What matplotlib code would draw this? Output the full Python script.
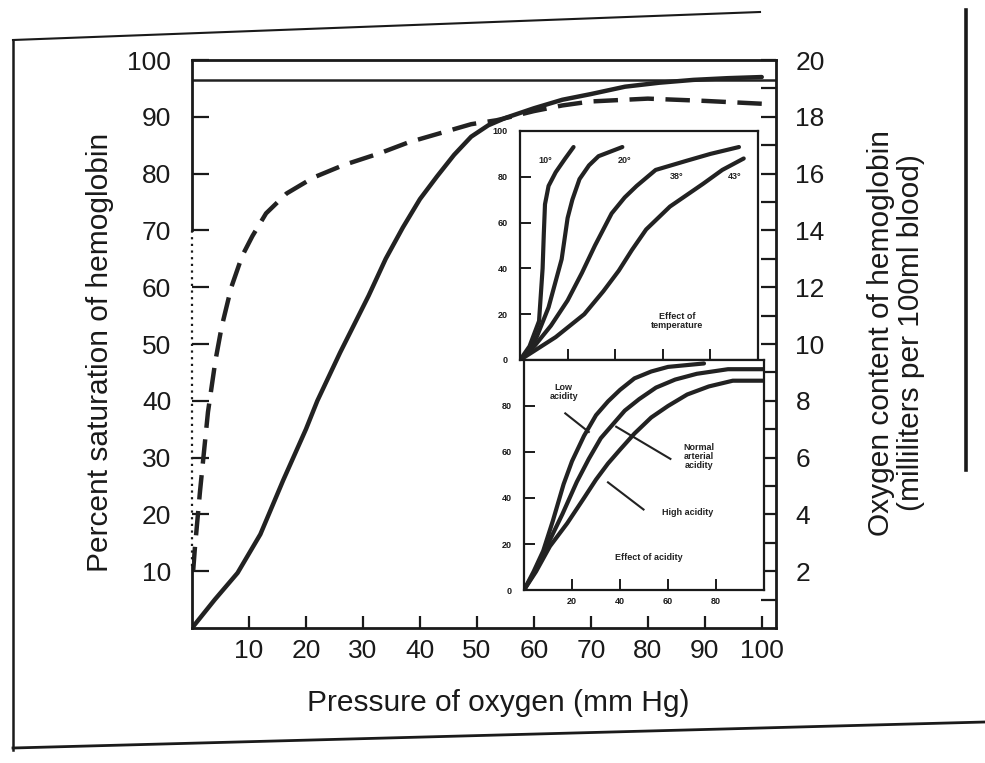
import matplotlib
matplotlib.use("Agg")
import matplotlib.pyplot as plt
from matplotlib.lines import Line2D

plt.rcParams['font.family'] = ['Liberation Sans', 'DejaVu Sans']

# ---------------- data ----------------
# main chart: hemoglobin (solid) and dashed curve
hb_po2 = [0, 4, 8, 12, 16, 20, 22, 26, 31, 34, 37, 40, 43, 46, 49, 52, 55, 60, 65, 70, 76, 82, 88, 94, 100]
hb_sat = [0, 5, 9.7, 16.5, 26, 35, 40, 48.5, 58.5, 65, 70.5, 75.5, 79.5, 83.3, 86.5, 88.5, 89.8, 91.5, 93, 94, 95.3, 96, 96.5, 96.8, 97]
mb_po2 = [0.2, 0.5, 1.4, 2.8, 4.1, 5.2, 6.9, 8.8, 10.6, 13, 16.6, 21.3, 26.6, 33, 38, 43.5, 49, 53.5, 60, 65, 70, 80, 90, 100]
mb_sat = [10, 14, 24, 38, 47, 53, 60, 65.5, 69, 73, 76.5, 79.3, 81.5, 83.6, 85.5, 87.1, 88.7, 89.4, 91, 92, 92.7, 93.2, 92.8, 92.3]
arterial_level = 96.5

x_ticks = [10, 20, 30, 40, 50, 60, 70, 80, 90, 100]
left_ticks = [10, 20, 30, 40, 50, 60, 70, 80, 90, 100]
right_major = [2, 4, 6, 8, 10, 12, 14, 16, 18, 20]
right_minor = [1, 3, 5, 7, 9, 11, 13, 15, 17, 19]

# inset 1: effect of temperature
t10_x = [0, 4, 8, 9.5, 10, 10.5, 12, 15, 19, 22.5]
t10_y = [0, 6, 17, 40, 55, 68, 76, 82, 88, 93]
t20_x = [0, 3, 7, 12, 17.5, 20, 22, 25, 29, 33, 43]
t20_y = [0, 3, 10, 23, 44, 62, 70, 79, 85, 89, 93]
t38_x = [0, 6, 13, 20, 26, 31.5, 38.5, 44, 49, 57, 70, 80, 92]
t38_y = [0, 6, 15, 26, 38, 50, 64, 71, 76, 83, 87, 90, 93]
t43_x = [0, 6, 15, 27, 35, 41.5, 47, 53, 63, 70, 77, 85, 94]
t43_y = [0, 4, 10, 20, 30, 39, 48, 57, 67, 72, 77, 83, 88]
temp_labels = ["10°", "20°", "38°", "43°"]
temp_label_x = [10.5, 44, 66, 90]
temp_label_y = [87, 87, 80, 80]

# inset 2: effect of acidity
low_x = [0, 4, 8, 12, 16.5, 20, 25, 30, 35, 40, 46, 53, 60, 75]
low_y = [0, 8, 17, 30, 46, 56, 67, 76, 82, 87, 92, 95, 97, 98.5]
norm_x = [0, 4, 9.5, 16, 22, 27, 32, 37, 42, 48, 55, 63, 72, 85, 100]
norm_y = [0, 7, 19, 33, 47, 57, 66, 72, 78, 83, 88, 91.5, 94, 96, 96]
high_x = [0, 5, 10.8, 18, 25, 30, 35, 40, 46, 53, 60, 68, 77, 87, 100]
high_y = [0, 8, 19, 29, 40, 48, 55, 61, 68, 75, 80, 85, 88.5, 91, 91]
inset_ticks = [0, 20, 40, 60, 80, 100]
inset_xticks = [20, 40, 60, 80]

W, H = 985, 763
fig = plt.figure(figsize=(W / 100, H / 100), dpi=100)


def fx(px):
    return px / W


def fy(py):
    return 1 - py / H


# ---------------- main axes ----------------
ax = fig.add_axes([fx(192), fy(628), fx(776) - fx(192), fy(60) - fy(628)])
ax.set_xlim(0, 102.5)
ax.set_ylim(0, 100)

ax.plot(hb_po2, hb_sat, color='#222222', lw=3.2, solid_capstyle='round', zorder=3)
ax.plot(mb_po2, mb_sat, color='#222222', lw=3.2, dashes=(5.5, 2.6), zorder=3)
ax.axhline(arterial_level, color='#222222', lw=1.8, zorder=2)

for s in ['top', 'right', 'bottom']:
    ax.spines[s].set_linewidth(2)
    ax.spines[s].set_color('#1a1a1a')
ax.spines['left'].set_visible(False)
# left edge: solid at the ends, dotted through the middle (as in the scan)
ax.plot([0, 0], [70, 100], color='#1a1a1a', lw=2, clip_on=False, zorder=4)
ax.plot([0, 0], [11, 70], color='#1a1a1a', lw=1.6, ls=(0, (1, 2)), clip_on=False, zorder=4)
ax.plot([0, 0], [0, 11], color='#1a1a1a', lw=2, clip_on=False, zorder=4)

ax.set_xticks(x_ticks)
ax.set_xticklabels([str(v) for v in x_ticks])
ax.set_yticks(left_ticks)
ax.set_yticklabels([str(v) for v in left_ticks])
ax.tick_params(axis='x', direction='in', length=9, width=1.6, pad=8,
               labelsize=19, colors='#1a1a1a')
ax.tick_params(axis='y', direction='in', length=12, width=1.6, pad=15,
               labelsize=19, colors='#1a1a1a', left=True)

ax2 = ax.twinx()
ax2.set_ylim(0, 20)
ax2.set_yticks(right_major)
ax2.set_yticklabels([str(v) for v in right_major])
ax2.set_yticks(right_minor, minor=True)
ax2.tick_params(axis='y', which='both', direction='in', length=11, width=1.6,
                pad=14, labelsize=19, colors='#1a1a1a')
for s in ax2.spines.values():
    s.set_visible(False)

fig.text(fx(100), fy(352), "Percent saturation of hemoglobin", rotation=90,
         ha='center', va='center', fontsize=21.5, color='#1a1a1a')
fig.text(fx(896), fy(333), "Oxygen content of hemoglobin\n(milliliters per 100ml blood)",
         rotation=90, ha='center', va='center', fontsize=21.5, color='#1a1a1a',
         multialignment='center', linespacing=1.05)
fig.text(fx(498), fy(703), "Pressure of oxygen (mm Hg)", ha='center', va='center',
         fontsize=21.5, color='#1a1a1a')

# ---------------- inset: temperature ----------------
axt = fig.add_axes([fx(520), fy(360), fx(758) - fx(520), fy(131) - fy(360)])
axt.set_facecolor('white')
axt.set_xlim(0, 100)
axt.set_ylim(0, 100)
for xs, ys in [(t10_x, t10_y), (t20_x, t20_y), (t38_x, t38_y), (t43_x, t43_y)]:
    axt.plot(xs, ys, color='#222222', lw=3, solid_capstyle='round')
for lab, lx, ly in zip(temp_labels, temp_label_x, temp_label_y):
    axt.text(lx, ly, lab, fontsize=6.5, fontweight='bold', ha='center', va='center',
             color='#222222')
axt.text(66, 17, "Effect of\ntemperature", fontsize=6.5, fontweight='bold',
         ha='center', va='center', color='#222222', linespacing=1.0)
axt.set_yticks(inset_ticks)
axt.set_yticklabels([str(v) for v in inset_ticks])
axt.set_xticks(inset_xticks)
axt.set_xticklabels([])
axt.tick_params(direction='in', length=8, width=1.4, labelsize=6.5, pad=9,
                colors='#1a1a1a')
for lab in axt.get_yticklabels():
    lab.set_fontweight('bold')
for s in axt.spines.values():
    s.set_linewidth(1.6)
    s.set_color('#1a1a1a')

# ---------------- inset: acidity ----------------
axa = fig.add_axes([fx(524), fy(590), fx(764) - fx(524), fy(360) - fy(590)])
axa.set_facecolor('white')
axa.set_xlim(0, 100)
axa.set_ylim(0, 100)
for xs, ys in [(low_x, low_y), (norm_x, norm_y), (high_x, high_y)]:
    axa.plot(xs, ys, color='#222222', lw=3, solid_capstyle='round')
axa.plot([17.2, 27], [76.8, 68.7], color='#222222', lw=1.5)
axa.plot([38.4, 61], [71, 57], color='#222222', lw=1.5)
axa.plot([35, 49.8], [46.8, 35], color='#222222', lw=1.5)
axa.text(16.5, 86, "Low\nacidity", fontsize=6.5, fontweight='bold', ha='center',
         va='center', color='#222222', linespacing=1.0)
axa.text(73, 58, "Normal\narterial\nacidity", fontsize=6.5, fontweight='bold',
         ha='center', va='center', color='#222222', linespacing=1.0)
axa.text(68, 33.5, "High acidity", fontsize=6.5, fontweight='bold', ha='center',
         va='center', color='#222222')
axa.text(52, 14, "Effect of acidity", fontsize=6.5, fontweight='bold', ha='center',
         va='center', color='#222222')
axa.set_yticks(inset_ticks[:-1])
axa.set_yticklabels([str(v) for v in inset_ticks[:-1]])
axa.set_xticks(inset_xticks)
axa.set_xticklabels([str(v) for v in inset_xticks])
axa.tick_params(direction='in', length=8, width=1.4, labelsize=6.5, pad=9,
                colors='#1a1a1a')
axa.tick_params(axis='x', pad=5)
for lab in axa.get_yticklabels() + axa.get_xticklabels():
    lab.set_fontweight('bold')
for s in axa.spines.values():
    s.set_linewidth(1.6)
    s.set_color('#1a1a1a')

# ---------------- page border from the scan ----------------
border = dict(transform=fig.transFigure, color='#1a1a1a')
fig.add_artist(Line2D([fx(13), fx(13)], [fy(40), fy(750)], lw=1.8, **border))
fig.add_artist(Line2D([fx(13), fx(760)], [fy(40), fy(12)], lw=1.5, **border))
fig.add_artist(Line2D([fx(13), fx(985)], [fy(748), fy(722)], lw=2.0, **border))
fig.add_artist(Line2D([fx(966), fx(966)], [fy(10), fy(470)], lw=2.6, **border))

fig.savefig("out.png", dpi=100, facecolor='white')
